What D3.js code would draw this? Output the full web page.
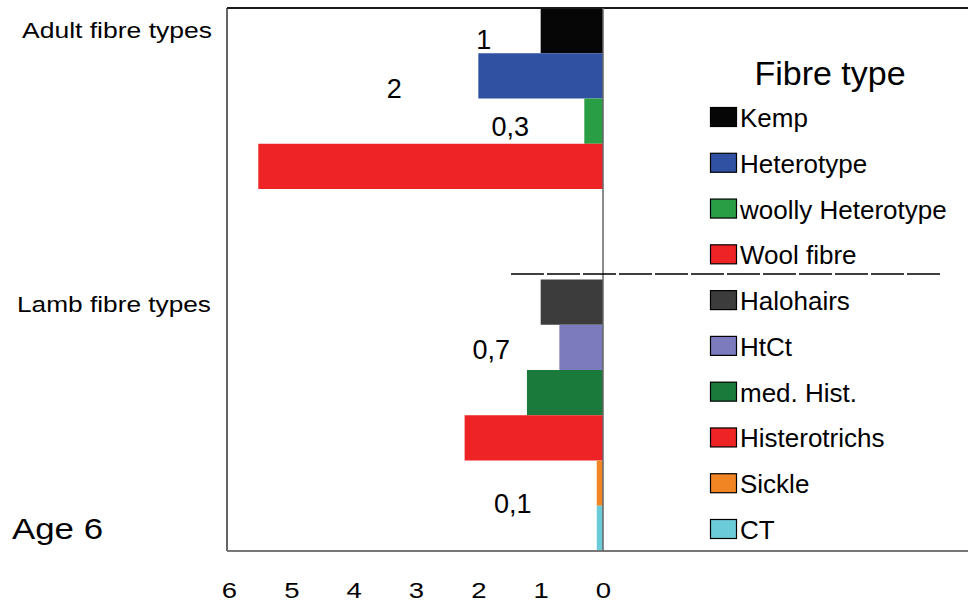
<!DOCTYPE html>
<html><head><meta charset="utf-8">
<script src="https://cdn.jsdelivr.net/npm/d3@7"></script>
<style>
html,body{margin:0;padding:0;background:#fff;}
svg{display:block;font-family:"Liberation Sans",Arial,Helvetica,sans-serif;}
</style></head>
<body>
<svg id="chart" width="968" height="603"></svg>
<script>
// ---- data ----
const categories = ["Kemp","Heterotype","woolly Heterotype","Wool fibre","_gap1","_gap2",
  "Halohairs","HtCt","med. Hist.","Histerotrichs","Sickle","CT"];
const fibreTypes = ["Kemp","Heterotype","woolly Heterotype","Wool fibre",
  "Halohairs","HtCt","med. Hist.","Histerotrichs","Sickle","CT"];
const values = [1.0, 2.0, 0.3, 5.53, 1.0, 0.7, 1.22, 2.22, 0.1, 0.1];
const colors = ["#060606","#3050a2","#2a9e45","#ee2326","#3c3c3c","#7b7bbd","#1a7a3c","#ee2326","#f28523","#6ccbd8"];
const groupLabels = ["Adult fibre types","Lamb fibre types"];
const xTicks = [6,5,4,3,2,1,0];
const barLabels = [
  {type:"Kemp", text:"1"},
  {type:"Heterotype", text:"2"},
  {type:"woolly Heterotype", text:"0,3"},
  {type:"HtCt", text:"0,7"},
  {type:"CT", text:"0,1"}
];
const title = "Fibre type";
const ageLabel = "Age 6";

// ---- layout ----
const svg = d3.select("#chart");
const frame = {left:227, top:8, bottom:551, right:968};
const x = d3.scaleLinear().domain([0,6]).range([603,229]);
const y = d3.scaleBand().domain(categories).range([frame.top, frame.bottom]).padding(0);

const data = fibreTypes.map((t,i)=>({type:t, value:values[i], color:colors[i]}));

// bars
svg.append("g").selectAll("rect").data(data).join("rect")
  .attr("x", d=>x(d.value))
  .attr("y", d=>y(d.type))
  .attr("width", d=>x(0)-x(d.value))
  .attr("height", y.bandwidth())
  .attr("fill", d=>d.color);

// frame
svg.append("line").attr("x1",frame.left).attr("x2",frame.right).attr("y1",frame.top).attr("y2",frame.top)
  .attr("stroke","#1a1a1a").attr("stroke-width",2);
svg.append("line").attr("x1",frame.left).attr("x2",frame.left).attr("y1",frame.top).attr("y2",frame.bottom)
  .attr("stroke","#333").attr("stroke-width",1.5);
svg.append("line").attr("x1",frame.left).attr("x2",frame.right).attr("y1",frame.bottom).attr("y2",frame.bottom)
  .attr("stroke","#777").attr("stroke-width",2);
svg.append("line").attr("x1",x(0)).attr("x2",x(0)).attr("y1",frame.top).attr("y2",frame.bottom)
  .attr("stroke","#666").attr("stroke-width",1.5);

// x axis (labels only)
const ax = svg.append("g").attr("transform",`translate(0,${frame.bottom})`)
  .call(d3.axisBottom(x).tickValues(xTicks).tickFormat(d3.format("d")).tickSize(0).tickPadding(0));
ax.select(".domain").remove();
ax.selectAll("text").attr("y",47).attr("dy",null).attr("font-size",22)
  .attr("font-family","Liberation Sans, Arial, sans-serif").attr("fill","#000")
  .attr("transform","scale(1.25,1)");

// bar value labels
const labelPlace = {"Kemp":[-57,-4],"Heterotype":[-84,-1],"woolly Heterotype":[-74,-8],"HtCt":[-68,-11],"CT":[-84,7]};
svg.append("g").selectAll("text").data(barLabels).join("text")
  .attr("x", d=>{const v=values[fibreTypes.indexOf(d.type)]; return x(v)+labelPlace[d.type][0];})
  .attr("y", d=>{const yy = d.type==="CT"? y(d.type) : y(d.type)+y.bandwidth(); return yy+labelPlace[d.type][1];})
  .attr("text-anchor","middle").attr("font-size",27).attr("fill","#000")
  .text(d=>d.text);

// group labels
const gl = [
  {t:groupLabels[0], x:22, y:38, w:190, fs:22},
  {t:groupLabels[1], x:17, y:312, w:194, fs:22}
];
svg.append("g").selectAll("text").data(gl).join("text")
  .attr("x",d=>d.x).attr("y",d=>d.y).attr("font-size",d=>d.fs)
  .attr("textLength",d=>d.w).attr("lengthAdjust","spacingAndGlyphs")
  .attr("fill","#000").text(d=>d.t);

svg.append("text").attr("x",12).attr("y",539).attr("font-size",30)
  .attr("textLength",91).attr("lengthAdjust","spacingAndGlyphs").text(ageLabel);

// legend
svg.append("text").attr("x",830).attr("y",85).attr("text-anchor","middle")
  .attr("font-size",34).text(title);
const legY = d3.scalePoint().domain(fibreTypes).range([127,539]);
const leg = svg.append("g").selectAll("g").data(data).join("g")
  .attr("transform",d=>`translate(710,${legY(d.type)})`);
leg.append("rect").attr("x",0.5).attr("y",-19.5).attr("width",26).attr("height",19)
  .attr("fill",d=>d.color).attr("stroke","#000").attr("stroke-width",1.2);
leg.append("text").attr("x",30).attr("y",0).attr("font-size",26).text(d=>d.type);

// separator dashed line
svg.append("line").attr("x1",511).attr("x2",942).attr("y1",274).attr("y2",274)
  .attr("stroke","#000").attr("stroke-width",1.3).attr("stroke-dasharray","33,3");
</script>
</body></html>
